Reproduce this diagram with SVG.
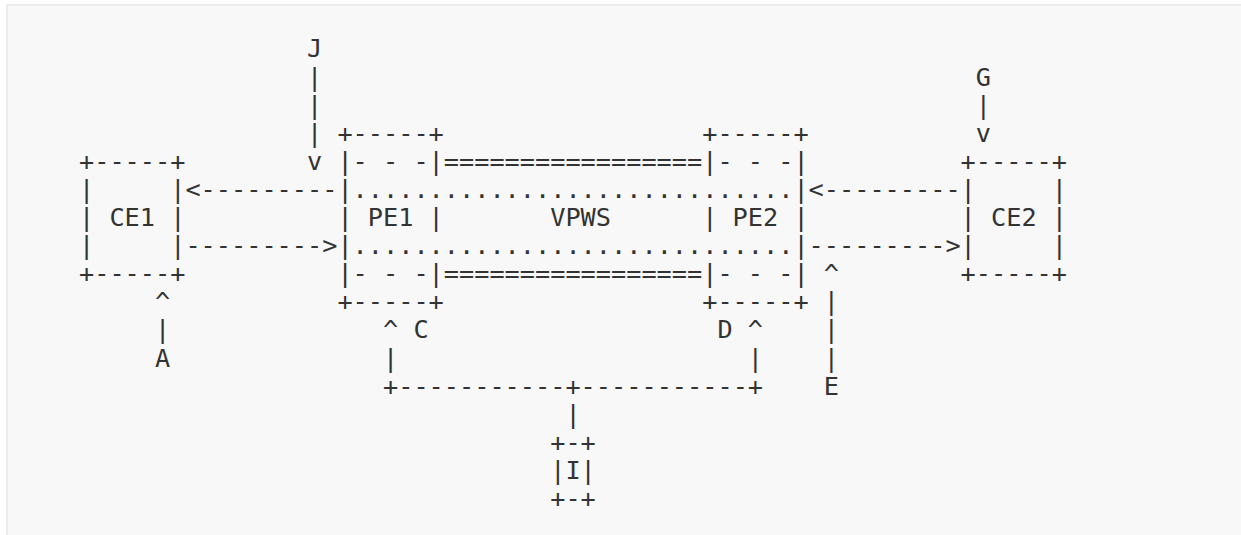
<svg xmlns="http://www.w3.org/2000/svg" width="1241" height="535" viewBox="0 0 1241 535" xml:space="preserve">
<style>
.t { font-family: "DejaVu Sans Mono", "Liberation Mono", monospace; font-size: 25.25px; fill: #333333; white-space: pre; }
</style>
<rect x="0" y="0" width="1241" height="535" fill="#ffffff"/>
<rect x="6" y="4" width="1240" height="540" fill="#ececec"/>
<rect x="8" y="6" width="1240" height="540" fill="#f8f8f8"/>
<g id="CE1" class="t">
<text x="79" y="169.8">+-----+</text>
<text x="79" y="197.9">|</text>
<text x="170.2" y="197.9">|</text>
<text x="79" y="226">| CE1 |</text>
<text x="79" y="254.1">|</text>
<text x="170.2" y="254.1">|</text>
<text x="79" y="282.2">+-----+</text>
</g>
<g id="PE1" class="t">
<text x="337.4" y="141.7">+-----+</text>
<text x="337.4" y="169.8">|- - -|</text>
<text x="337.4" y="197.9">|</text>
<text x="337.4" y="226">| PE1 |</text>
<text x="337.4" y="254.1">|</text>
<text x="337.4" y="282.2">|- - -|</text>
<text x="337.4" y="310.3">+-----+</text>
</g>
<g id="VPWS" class="t">
<text x="443.8" y="169.8">=================</text>
<text x="352.6" y="197.9">.............................</text>
<text x="550.2" y="226">VPWS</text>
<text x="352.6" y="254.1">.............................</text>
<text x="443.8" y="282.2">=================</text>
</g>
<g id="PE2" class="t">
<text x="702.2" y="141.7">+-----+</text>
<text x="702.2" y="169.8">|- - -|</text>
<text x="793.4" y="197.9">|</text>
<text x="702.2" y="226">| PE2 |</text>
<text x="793.4" y="254.1">|</text>
<text x="702.2" y="282.2">|- - -|</text>
<text x="702.2" y="310.3">+-----+</text>
</g>
<g id="CE2" class="t">
<text x="960.6" y="169.8">+-----+</text>
<text x="960.6" y="197.9">|</text>
<text x="1051.8" y="197.9">|</text>
<text x="960.6" y="226">| CE2 |</text>
<text x="960.6" y="254.1">|</text>
<text x="1051.8" y="254.1">|</text>
<text x="960.6" y="282.2">+-----+</text>
</g>
<g id="I" class="t">
<text x="550.2" y="450.8">+-+</text>
<text x="550.2" y="478.9">|I|</text>
<text x="550.2" y="507">+-+</text>
</g>
<g id="labels" class="t">
<text x="307" y="57.4">J</text>
<text x="975.8" y="85.5">G</text>
<text x="155" y="366.5">A</text>
<text x="413.4" y="338.4">C</text>
<text x="717.4" y="338.4">D</text>
<text x="823.8" y="394.6">E</text>
</g>
<g id="connectors" class="t">
<text x="307" y="85.5">|</text>
<text x="307" y="113.6">|</text>
<text x="307" y="141.7">|</text>
<text x="307" y="169.8">v</text>
<text x="975.8" y="113.6">|</text>
<text x="975.8" y="141.7">v</text>
<text x="185.4" y="197.9">&lt;---------</text>
<text x="808.6" y="197.9">&lt;---------</text>
<text x="185.4" y="254.1">---------&gt;</text>
<text x="808.6" y="254.1">---------&gt;</text>
<text x="155" y="310.3">^</text>
<text x="155" y="338.4">|</text>
<text x="823.8" y="282.2">^</text>
<text x="823.8" y="310.3">|</text>
<text x="823.8" y="338.4">|</text>
<text x="823.8" y="366.5">|</text>
<text x="383" y="338.4">^</text>
<text x="383" y="366.5">|</text>
<text x="747.8" y="338.4">^</text>
<text x="747.8" y="366.5">|</text>
<text x="383" y="394.6">+-----------+-----------+</text>
<text x="565.4" y="422.7">|</text>
</g>
</svg>
